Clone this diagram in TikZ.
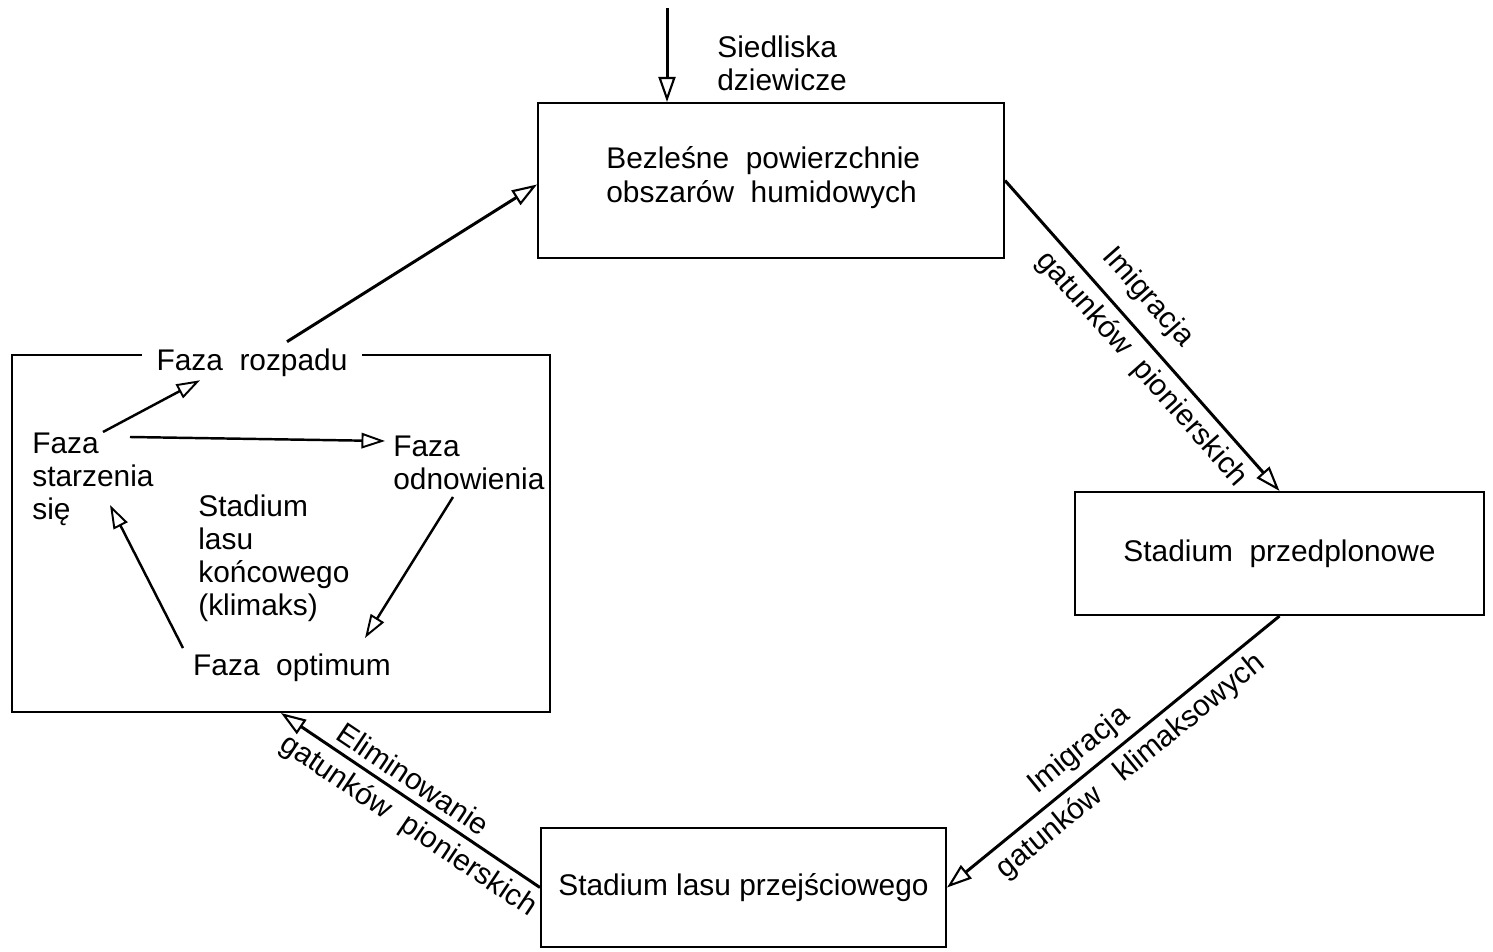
\documentclass[tikz,border=0pt]{standalone}
\usepackage{fontspec}
\setmainfont{Liberation Sans}
\usetikzlibrary{arrows.meta,calc}
\begin{document}
\begin{tikzpicture}[x=0.02cm,y=-0.02cm,
  every node/.style={font=\fontsize{17}{18.7}\selectfont},
  box/.style={draw, line width=1.2pt},
  conn/.style={line width=1.7pt, -{Triangle[open,length=0.5cm,width=0.34cm,line width=1.2pt]}},
  connrev/.style={line width=1.7pt, {Triangle[open,length=0.5cm,width=0.34cm,line width=1.2pt]}-},
  inner/.style={line width=1.4pt, -{Triangle[open,length=0.47cm,width=0.31cm,line width=1.1pt]}},
  lab/.style={sloped, inner sep=2pt},
  phase/.style={inner sep=0pt, align=left},
]
\useasboundingbox (0,0) rectangle (1493,952);

% main boxes
\node[box, minimum width=9.32cm, minimum height=3.1cm] (top) at (771,180.5) {};
\node[phase, anchor=north west] (toptext) at (606,146)
  {Bezleśne\ \ powierzchnie\\[1pt]obszarów\ \ humidowych};
\node[box, minimum width=8.18cm, minimum height=2.46cm] (pred) at (1279.5,553.5)
  {Stadium\ \ przedplonowe};
\node[box, minimum width=8.1cm, minimum height=2.38cm] (przej) at (743.5,887.5)
  {Stadium lasu przejściowego};
\node[box, minimum width=10.76cm, minimum height=7.14cm] (klim) at (281,533.5) {};

% title of the climax box
\node[fill=white, inner ysep=4pt, inner xsep=0.3cm] (rozpad) at (252,363) {Faza\ \ rozpadu};

% inflow
\node[phase, anchor=north west] (sied) at (717,36) {Siedliska\\dziewicze};
\coordinate (src) at (667,8);
\draw[conn] (src) -- (src |- top.north);

% phases inside
\node[phase, anchor=north west] (starz) at (32,433) {Faza\\starzenia\\się};
\node[phase, anchor=north west] (odn) at (393,436) {Faza\\odnowienia};
\node[phase, anchor=north west] (stad) at (198,495) {Stadium\\lasu\\końcowego\\(klimaks)};
\node[phase] (opt) at (292,668) {Faza\ \ optimum};

\draw[inner] ($(starz.north west)+(71,-1)$) -- ($(rozpad.south)+(-52,-4)$);
\draw[inner] ($(starz.north west)+(98,4)$) -- ($(odn.north west)+(-8,5)$);
\draw[inner] ($(odn.north west)+(60,61)$) -- ($(opt.center)+(73,-30)$);
\draw[inner] ($(opt.center)+(-109,-20)$) -- ($(starz.north west)+(78,72)$);

% main cycle
\draw[conn] ($(rozpad.north)+(35,0)$) -- ($(top.west)+(0,4)$);
\draw[conn] (top.east) --
  node[lab, above=6pt, pos=0.44] {Imigracja}
  node[lab, below=2pt, pos=0.56] {gatunków\ \ pionierskich} (pred.north);
\draw[connrev] (przej.east) --
  node[lab, above=2pt, pos=0.44] {Imigracja}
  node[lab, below=2pt, pos=0.51] {gatunków\ \ \ klimaksowych} (pred.south);
\draw[connrev] (klim.south) --
  node[lab, above=2pt, pos=0.47] {Eliminowanie}
  node[lab, below=2pt, pos=0.54] {gatunków\ \ pionierskich} (przej.west);
\end{tikzpicture}
\end{document}
